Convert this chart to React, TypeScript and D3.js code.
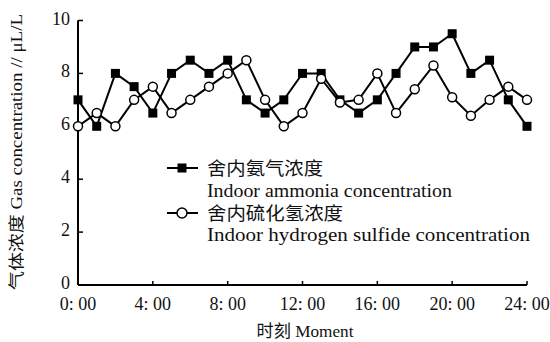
import React from "react";
import * as d3 from "d3";

// hourly readings, 0:00 .. 24:00
const hours = [0, 1, 2, 3, 4, 5, 6, 7, 8, 9, 10, 11, 12, 13, 14, 15, 16, 17, 18, 19, 20, 21, 22, 23, 24];
const ammonia = [7, 6, 8, 7.5, 6.5, 8, 8.5, 8, 8.5, 7, 6.5, 7, 8, 8, 7, 6.5, 7, 8, 9, 9, 9.5, 8, 8.5, 7, 6];
const h2s = [6, 6.5, 6, 7, 7.5, 6.5, 7, 7.5, 8, 8.5, 7, 6, 6.5, 7.8, 6.9, 7, 8, 6.5, 7.4, 8.3, 7.1, 6.4, 7, 7.5, 7];

const xTicks = [0, 4, 8, 12, 16, 20, 24];
const xTickLabels = ["0: 00", "4: 00", "8: 00", "12: 00", "16: 00", "20: 00", "24: 00"];
const yTicks = [0, 2, 4, 6, 8, 10];

const legendCn = ["舍内氨气浓度", "舍内硫化氢浓度"];
const legendEn = ["Indoor ammonia concentration", "Indoor hydrogen sulfide concentration"];

const width = 550;
const height = 342;
const margin = { left: 78, right: 23, top: 20.5, bottom: 57 };

const serif = "'Liberation Serif', 'Noto Sans CJK SC', serif";

export default function App() {
  const x = d3.scaleLinear().domain([0, 24]).range([margin.left, width - margin.right]);
  const y = d3.scaleLinear().domain([0, 10]).range([height - margin.bottom, margin.top]);

  const line = d3
    .line<number>()
    .x((_, i) => x(hours[i]))
    .y((d) => y(d));

  const y0 = y(0);
  const x0 = x(0);

  return (
    <svg
      width={width}
      height={height}
      style={{ position: "absolute", left: 0, top: 0, background: "#fff" }}
      fontFamily={serif}
    >
      {/* axes */}
      <line x1={x0} x2={x(24)} y1={y0} y2={y0} stroke="#000" strokeWidth={2} />
      <line x1={x0} x2={x0} y1={y0} y2={y(10)} stroke="#000" strokeWidth={2} />
      {xTicks.map((t, i) => (
        <g key={"xt" + t}>
          <line x1={x(t)} x2={x(t)} y1={y0} y2={y0 - 4} stroke="#000" strokeWidth={1.5} />
          <text x={x(t)} y={310} fontSize={18} textAnchor="middle" fill="#111">
            {xTickLabels[i]}
          </text>
        </g>
      ))}
      {yTicks.map((t) => (
        <g key={"yt" + t}>
          <line x1={x0} x2={x0 + 5} y1={y(t)} y2={y(t)} stroke="#000" strokeWidth={1.5} />
          <text x={70} y={y(t) + 4} fontSize={18} textAnchor="end" fill="#111">
            {t}
          </text>
        </g>
      ))}

      {/* axis titles */}
      <text
        transform={`translate(22,152) rotate(-90)`}
        fontSize={16}
        textAnchor="middle"
        textLength={276}
        lengthAdjust="spacingAndGlyphs"
        fill="#111"
      >
        气体浓度 Gas concentration // μL/L
      </text>
      <text x={305} y={337} fontSize={17} textAnchor="middle" textLength={97} lengthAdjust="spacingAndGlyphs" fill="#111">
        时刻 Moment
      </text>

      {/* series */}
      <path d={line(ammonia) || ""} fill="none" stroke="#000" strokeWidth={2} />
      <path d={line(h2s) || ""} fill="none" stroke="#000" strokeWidth={2} />
      {ammonia.map((v, i) => (
        <rect key={"a" + i} x={x(hours[i]) - 4.5} y={y(v) - 4.5} width={9} height={9} fill="#000" />
      ))}
      {h2s.map((v, i) => (
        <circle key={"h" + i} cx={x(hours[i])} cy={y(v)} r={4.5} fill="#fff" stroke="#000" strokeWidth={1.5} />
      ))}

      {/* legend */}
      <g>
        <line x1={167} x2={198} y1={168} y2={168} stroke="#000" strokeWidth={2} />
        <rect x={177.5} y={163.5} width={9} height={9} fill="#000" />
        <text x={207} y={175} fontSize={18} textLength={116} lengthAdjust="spacingAndGlyphs" fill="#111">
          {legendCn[0]}
        </text>
        <text x={207} y={197} fontSize={19} textLength={245} lengthAdjust="spacingAndGlyphs" fill="#111">
          {legendEn[0]}
        </text>
        <line x1={167} x2={198} y1={213} y2={213} stroke="#000" strokeWidth={2} />
        <circle cx={182} cy={213} r={5} fill="#fff" stroke="#000" strokeWidth={1.5} />
        <text x={207} y={220} fontSize={18} textLength={136} lengthAdjust="spacingAndGlyphs" fill="#111">
          {legendCn[1]}
        </text>
        <text x={207} y={241} fontSize={19} textLength={323} lengthAdjust="spacingAndGlyphs" fill="#111">
          {legendEn[1]}
        </text>
      </g>
    </svg>
  );
}
